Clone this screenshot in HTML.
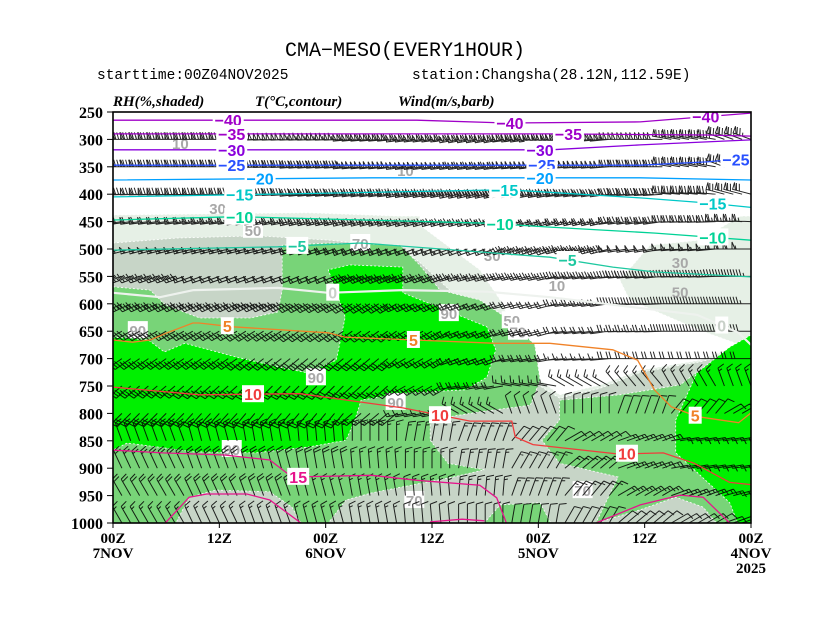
<!DOCTYPE html>
<html><head><meta charset="utf-8"><style>
html,body{margin:0;padding:0;background:#fff;}
svg{display:block;}
</style></head><body>
<svg id="chart" width="827" height="639" viewBox="0 0 827 639" xmlns="http://www.w3.org/2000/svg">
<defs><clipPath id="plotclip"><rect x="113" y="112" width="638" height="411"/></clipPath></defs>
<rect x="0" y="0" width="827" height="639" fill="#fff"/>
<text x="405" y="56" text-anchor="middle" font-family="Liberation Mono, monospace" font-size="20" fill="#000">CMA−MESO(EVERY1HOUR)</text>
<text x="97" y="79" font-family="Liberation Mono, monospace" font-size="14.5" fill="#000">starttime:00Z04NOV2025</text>
<text x="412" y="79" font-family="Liberation Mono, monospace" font-size="14.5" fill="#000">station:Changsha(28.12N,112.59E)</text>
<text x="113" y="106" font-family="Liberation Serif, serif" font-style="italic" font-weight="bold" font-size="15">RH(%,shaded)</text>
<text x="255" y="106" font-family="Liberation Serif, serif" font-style="italic" font-weight="bold" font-size="15">T(°C,contour)</text>
<text x="398" y="106" font-family="Liberation Serif, serif" font-style="italic" font-weight="bold" font-size="15">Wind(m/s,barb)</text>
<g id="plot" clip-path="url(#plotclip)">
<g id="shade"></g>
<g id="rhlab"></g>
<g id="barbs"></g>
<g id="iso"></g>
</g>
<rect x="113" y="112" width="638" height="411" fill="none" stroke="#000" stroke-width="1.6"/>
<g id="axes"></g>
</svg>
<script>
const pLevels=[250,300,350,400,450,500,550,600,650,700,750,800,850,900,950,1000];
const timeTicks=[72,60,48,36,24,12,0];
const timeLab1=["00Z","12Z","00Z","12Z","00Z","12Z","00Z"];
const timeLab2=["7NOV","","6NOV","","5NOV","","4NOV"];
const timeLab3=["","","","","","","2025"];

const lightPoly=[[72,438],[50,434],[40,440],[0,440],[0,1000],[72,1000]];
const whitePoly=[[37.4,440],[1.2,440],[5.8,484],[11.4,493],[14.8,557],[13.7,593],[5.8,648],[1.2,675],[5.8,703],[12.5,721],[17,748],[21.6,766],[23.8,739],[26.1,666],[28.3,593],[30.6,538],[35.1,484],[37.4,456]];
const greyPoly=[[72,489],[64.7,480],[55.7,476],[47.5,484],[39.6,498],[37.4,524],[34,575],[31.7,630],[28.3,666],[24.9,739],[21.6,772],[17,754],[12.5,725],[5.8,706],[0,684],[0,1000],[72,1000]];
const greenPolyA=[[72,569],[67.8,575],[66.1,602],[62.2,626],[56.5,626],[53.4,615],[52.9,575],[52.9,493],[47.5,489],[39.6,493],[37.4,529],[35.1,575],[30.6,593],[27.2,630],[24.4,675],[23.8,739],[24.9,785],[30.6,797],[36.2,812],[36.2,849],[34.2,891],[30.1,903],[33.6,916],[42.8,945],[45.7,958],[47.7,1000],[50.8,1000],[51.8,971],[54.3,943],[60.4,940],[63.4,953],[64.9,1000],[72,1000]];
const greenPolyB=[[21.6,776],[14.8,766],[8,748],[5.8,721],[0,666],[0,1000],[3.9,1000],[5.4,971],[8.5,953],[12.5,976],[17.5,1000],[15,916],[21.6,891],[23.6,849],[21.6,812]];
const greenPolyC=[[30.1,1000],[28.3,967],[23.8,963],[22.6,1000]];
const brightPolyA=[[72,661],[68,666],[66.2,688],[63.9,672],[58.1,697],[53.4,715],[50.1,726],[46.8,703],[45.8,624],[47.7,538],[45.3,529],[39.3,533],[39.3,580],[34.5,611],[29.8,642],[28.8,684],[29.8,734],[32.2,757],[39.3,763],[44,776],[44.7,812],[45.7,849],[49.8,861],[55.9,872],[62.9,870],[70.4,854],[72,867]];
const brightPolyB=[[8.5,812],[6.1,726],[2.4,679],[0,657],[0,1000],[1.5,1000],[2.4,963],[6.4,903],[8.5,872]];

const rhLabH=[64.4,39,60.2,56.2,44.1,29.2,21.9,8,8,27,26.3,69.2,34.1,49.1,40.1,58.6,38,19];
const rhLabP=[307,356,425,465,489,511,566,524,578,630,651,648,617,734,779,865,958,940];
const rhLabV=["10","10","30","50","70","30","10","30","50","50","70","90","90","90","90","90","70","70"];
const rhLabBox=[0,0,0,1,1,0,0,0,0,1,1,1,1,1,1,1,1,1];

const isoVals=[-40,-35,-30,-25,-20,-15,-10,-5,0,5,10,15,15,15,15];
const isoColors=["#a000c8","#a000c8","#8a00dc","#2850ff","#00a0ff","#00c8c8","#00d296","#1ec8a0","#eef2ee","#f08228","#f03c3c","#e6148c","#e6148c","#e6148c","#e6148c"];
const isoH=[
[72,37.7,27.6,12.5,5.4,0],
[72,42.7,22.6,5,0],
[72,22.6,12.5,0],
[72,12.5,5,0],
[72,42.7,12.5,0],
[72,47.5,27.4,12.3,4.9,0],
[72,58.1,29.8,22.7,10.8,0],
[72,53.4,44,22.7,15.6,10.8,0],
[72,66.7,62.9,53.4,47.7,39.3,29.8,22.7,10.8,6.1,1.4,0],
[72,69.8,67.8,65.9,63,62.3,58.5,47.7,45.8,28.8,22.7,15.6,12.8,10.9,9,6,1.4,0],
[72,62.2,50.9,39.3,31.7,27,26.6,24.6,15,9.9,6.4,2.4,0],
[72,66.4,59.4,54.3,51.8,42.8,37.7,30.6,28.7,27.6],
[66.1,63.4,61.4,56.9,54.3,50.8],
[17.5,12.5,8,5.4,2.4],
[36.2,32.6,30.1]
];
const isoP=[
[265,265,270,268,259,252],
[290,290,290,292,294],
[319,319,310,301],
[347,347,341,334],
[374,370,370,374],
[405,398,392,407,416,424],
[447,441,453,460,471,484],
[502,496,489,515,533,542,551],
[580,588,575,571,580,575,578,588,611,620,653,675],
[666,670,666,653,635,635,642,653,661,672,672,684,703,757,788,806,817,799],
[752,766,764,790,814,814,843,857,874,872,891,926,930],
[867,872,876,885,916,913,922,931,954,1000],
[1000,953,947,947,958,1000],
[1000,967,949,953,1000],
[998,993,996]
];
const isoLabH=[[59,27.2,5.1],[58.6,20.6],[58.6,23.8],[58.6,23.6,1.7],[55.4,23.8],[57.7,27.8,4.3],[57.7,28.3,4.3],[51.2,20.7],[47.2,3.3],[59.1,38.1,6.3],[56.2,35.1,14],[51.1],[],[],[]];

const barbLevels=[300,350,400,450,500,550,600,650,700,750,800,850,900,950,1000];
const barbTimes=[72,66,60,54,48,42,36,30,24,18,12,6,0];
const spd300=[36,38,38,40,42,44,46,48,50,46,40,34,30];
const spd350=[32,34,34,36,38,40,42,44,42,40,36,32,30];
const spd400=[28,30,30,32,34,36,38,38,36,34,32,30,28];
const spd450=[24,24,26,26,28,30,30,28,26,26,28,28,26];
const spd500=[20,22,22,22,24,24,22,20,18,18,20,22,22];
const spd550=[18,18,20,20,20,18,16,14,12,14,16,18,18];
const spd600=[16,16,16,18,18,16,12,10,8,10,12,14,14];
const spd650=[16,14,14,14,14,14,12,10,8,8,10,12,12];
const spd700=[14,14,14,12,12,12,10,8,8,6,8,8,8];
const spd750=[14,14,14,12,12,10,10,8,6,6,6,6,6];
const spd800=[12,12,10,10,10,8,6,6,4,4,4,4,4];
const spd850=[8,8,8,8,6,6,6,6,4,4,6,6,6];
const spd900=[8,8,8,8,8,6,6,6,6,6,6,6,6];
const spd950=[8,8,8,8,6,6,6,6,6,6,6,6,6];
const spd1000=[6,6,6,6,6,6,4,4,4,4,4,4,4];
const dir300=[270,270,270,268,268,265,262,260,262,265,270,280,290];
const dir350=[270,270,270,268,266,264,262,262,264,266,270,280,290];
const dir400=[268,268,268,266,264,262,260,258,260,262,266,275,285];
const dir450=[262,262,262,260,258,256,255,255,255,258,262,268,272];
const dir500=[255,255,255,255,252,250,250,250,252,255,260,265,270];
const dir550=[250,250,250,250,248,248,250,255,258,262,265,268,270];
const dir600=[245,245,245,245,242,240,245,250,255,262,268,270,270];
const dir650=[240,240,240,238,236,235,240,248,255,262,268,270,270];
const dir700=[235,235,235,232,230,230,240,250,260,265,270,270,270];
const dir750=[230,230,228,225,225,228,240,260,280,300,320,330,340];
const dir800=[225,225,222,220,220,230,260,300,340,0,20,40,60];
const dir850=[340,340,345,350,355,0,10,20,40,60,70,80,80];
const dir900=[335,335,340,345,350,355,0,10,30,50,70,80,80];
const dir950=[330,330,335,340,345,350,355,5,20,40,60,70,75];
const dir1000=[330,330,335,340,345,350,355,0,10,30,50,60,70];
const spdRows=[spd300,spd350,spd400,spd450,spd500,spd550,spd600,spd650,spd700,spd750,spd800,spd850,spd900,spd950,spd1000];
const dirRows=[dir300,dir350,dir400,dir450,dir500,dir550,dir600,dir650,dir700,dir750,dir800,dir850,dir900,dir950,dir1000];

const X0=113,X1=751,Y0=112,Y1=523;
function xs(h){return X1-(h/72)*(X1-X0);}
function ys(p){return Y0+(p-250)/750*(Y1-Y0);}
const NS="http://www.w3.org/2000/svg";
function mk(tag,attrs,parent){const e=document.createElementNS(NS,tag);for(const k in attrs)e.setAttribute(k,attrs[k]);parent.appendChild(e);return e;}

const shade=document.getElementById('shade');
function poly(pts,fill,name){
  const e=mk('polygon',{points:pts.map(q=>xs(q[0]).toFixed(1)+','+ys(q[1]).toFixed(1)).join(' '),fill:fill,stroke:'#fff','stroke-width':'0.8','stroke-dasharray':'2,2'},shade);
  
  
}
poly(lightPoly,'#e6f0e6','rh-30-50-region');
poly(whitePoly,'#ffffff','rh-dry-region');
poly(greyPoly,'#c7d5c7','rh-70-90-region');
poly(greenPolyA,'#78d478','rh-90-region-left');
poly(greenPolyB,'#78d478','rh-90-region-right');
poly(greenPolyC,'#78d478','rh-90-region-bottom');
poly(brightPolyA,'#00f000','rh-95-region-left');
poly(brightPolyB,'#00f000','rh-95-region-right');

const rhlab=document.getElementById('rhlab');
rhLabV.forEach((v,i)=>{
  const x=xs(rhLabH[i]),y=ys(rhLabP[i]);
  if(rhLabBox[i]){const b=mk('rect',{x:x-10,y:y-9,width:20,height:17,fill:'#fff'},rhlab);
    
    }
  const t=mk('text',{x:x,y:y+6,'text-anchor':'middle','font-family':'Liberation Sans, sans-serif','font-weight':'bold','font-size':'15',fill:'#a8a8a8'},rhlab);
  t.textContent=v;
  
  
});

const bg=document.getElementById('barbs');
let bpath='';
barbLevels.forEach((p,li)=>{
  for(let h=72;h>=0;h--){
    const k=Math.round((72-h)/6);
    const sp=spdRows[li][k],d=dirRows[li][k]*Math.PI/180;
    const x=xs(h),y=ys(p);
    const sx=Math.sin(d),sy=-Math.cos(d);
    const px=-sy,py=sx;
    const L=19;
    const tx=x+sx*L,ty=y+sy*L;
    bpath+=`M${x.toFixed(1)},${y.toFixed(1)}L${tx.toFixed(1)},${ty.toFixed(1)}`;
    let rem=sp,off=0;
    while(rem>=20){
      const ax=tx-sx*off,ay=ty-sy*off;
      bpath+=`M${ax.toFixed(1)},${ay.toFixed(1)}L${(ax+px*7).toFixed(1)},${(ay+py*7).toFixed(1)}L${(ax-sx*3).toFixed(1)},${(ay-sy*3).toFixed(1)}Z`;
      off+=4;rem-=20;
    }
    while(rem>=4){
      const ax=tx-sx*off,ay=ty-sy*off;
      bpath+=`M${ax.toFixed(1)},${ay.toFixed(1)}L${(ax+px*7+sx*2).toFixed(1)},${(ay+py*7+sy*2).toFixed(1)}`;
      off+=3;rem-=4;
    }
    if(rem>=2){
      const ax=tx-sx*off,ay=ty-sy*off;
      bpath+=`M${ax.toFixed(1)},${ay.toFixed(1)}L${(ax+px*3.5+sx).toFixed(1)},${(ay+py*3.5+sy).toFixed(1)}`;
    }
  }
});
const bp=mk('path',{d:bpath,fill:'none',stroke:'#000','stroke-width':'1','stroke-opacity':'0.85'},bg);



const iso=document.getElementById('iso');
function interpP(hs,ps,h){
  for(let i=0;i<hs.length-1;i++){
    const a=hs[i],b=hs[i+1];
    if((h<=a&&h>=b)||(h>=a&&h<=b)){const t=(h-a)/(b-a||1);return ps[i]+(ps[i+1]-ps[i])*t;}
  }
  return ps[0];
}
isoVals.forEach((v,i)=>{
  const pts=isoH[i].map((h,j)=>xs(h).toFixed(1)+','+ys(isoP[i][j]).toFixed(1)).join(' ');
  const l=mk('polyline',{points:pts,fill:'none',stroke:isoColors[i],'stroke-width':v===0?'2.2':'1.3'},iso);
  
  
  isoLabH[i].forEach(h=>{
    const x=xs(h),y=ys(interpP(isoH[i],isoP[i],h));
    const txt=String(v).replace('-','−');
    const w=txt.length*9+4;
    const r=mk('rect',{x:x-w/2,y:y-9,width:w,height:17,fill:'#fff'},iso);
    
    
    const t=mk('text',{x:x,y:y+6,'text-anchor':'middle','font-family':'Liberation Sans, sans-serif','font-weight':'bold','font-size':'16',fill:v===0?'#c8d0c8':isoColors[i]},iso);
    t.textContent=txt;
    
    
  });
});

const axes=document.getElementById('axes');
pLevels.forEach(p=>{
  const t=mk('text',{x:103,y:ys(p)+6,'text-anchor':'end','font-family':'Liberation Serif, serif','font-weight':'bold','font-size':'16',fill:'#000'},axes);
  t.textContent=p;
  
  
  const tk=mk('line',{x1:107,x2:113,y1:ys(p),y2:ys(p),stroke:'#000','stroke-width':'1'},axes);
  
  
});
timeTicks.forEach((h,i)=>{
  const x=xs(h);
  const tk=mk('line',{x1:x,x2:x,y1:Y1,y2:Y1+5,stroke:'#000','stroke-width':'1'},axes);
  
  
  [timeLab1[i],timeLab2[i],timeLab3[i]].forEach((s,j)=>{
    if(!s)return;
    const t=mk('text',{x:x,y:Y1+20+j*15,'text-anchor':'middle','font-family':'Liberation Serif, serif','font-weight':'bold','font-size':'15',fill:'#000'},axes);
    t.textContent=s;
    
    
  });
});
</script>
</body></html>
